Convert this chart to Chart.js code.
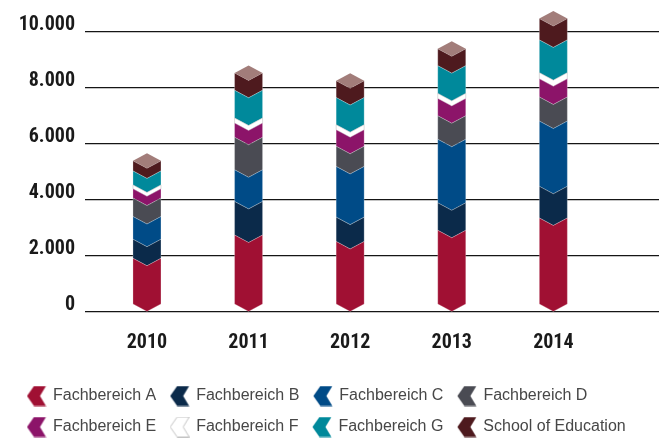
<!DOCTYPE html>
<html>
<head>
<meta charset="utf-8">
<script src="https://cdn.jsdelivr.net/npm/chart.js@4/dist/chart.umd.min.js"></script>
<style>
    html, body { margin: 0; padding: 0; background: #fff; }
    #wrap { width: 661px; height: 439px; }
</style>
</head>
<body>
<div id="wrap"><canvas id="studentChart"></canvas></div>
<script>
const years = [2010, 2011, 2012, 2013, 2014];
const yTicks = [0, 2000, 4000, 6000, 8000, 10000];

const fachbereichA = [1650, 2480, 2250, 2650, 3090];
const fachbereichB = [680, 1200, 870, 980, 1130];
const fachbereichC = [810, 1130, 1810, 2270, 2330];
const fachbereichD = [660, 1160, 720, 840, 860];
const fachbereichE = [330, 510, 590, 620, 650];
const fachbereichF = [140, 180, 180, 180, 220];
const fachbereichG = [500, 990, 970, 990, 1170];
const schoolOfEducation = [360, 620, 600, 600, 760];

const seriesNames = ['Fachbereich A', 'Fachbereich B', 'Fachbereich C', 'Fachbereich D',
    'Fachbereich E', 'Fachbereich F', 'Fachbereich G', 'School of Education'];
const seriesValues = [fachbereichA, fachbereichB, fachbereichC, fachbereichD,
    fachbereichE, fachbereichF, fachbereichG, schoolOfEducation];
const seriesColors = ['#a01033', '#0b2a4a', '#004b87', '#4a4b53',
    '#8c1469', '#ffffff', '#00899b', '#4e1a1e'];
const capColor = '#a27d7a';
const DIP = 7.5;

const condensed = '"Roboto Condensed", "Liberation Sans Narrow", Roboto, sans-serif';

const formatThousands = v => String(v).replace(/\B(?=(\d{3})+(?!\d))/g, '.');

// left pointing chevron for the legend
const makeIcon = (color) => {
    const c = document.createElement('canvas');
    c.width = 20;
    c.height = 21;
    const g = c.getContext('2d');
    g.beginPath();
    g.moveTo(7.5, 0.5);
    g.lineTo(19.5, 0.5);
    g.lineTo(13.5, 10.5);
    g.lineTo(19.5, 20.5);
    g.lineTo(7.5, 20.5);
    g.lineTo(0.5, 10.5);
    g.closePath();
    g.fillStyle = color;
    g.fill();
    if (color === '#ffffff') {
        g.strokeStyle = '#c4c4c4';
        g.lineWidth = 1;
        g.stroke();
    }
    return c;
};
const legendIcons = seriesColors.map(makeIcon);

const chevronBars = {
    id: 'chevronBars',
    beforeDatasetDraw(chart, args) {
        const ctx = chart.ctx;
        const color = chart.data.datasets[args.index].backgroundColor;
        const isTop = args.index === chart.data.datasets.length - 1;
        args.meta.data.forEach(bar => {
            const {x, y, base, width} = bar.getProps(['x', 'y', 'base', 'width'], true);
            const l = x - width / 2;
            const r = x + width / 2;
            ctx.save();
            ctx.beginPath();
            ctx.moveTo(l, y - DIP);
            ctx.lineTo(x, y);
            ctx.lineTo(r, y - DIP);
            ctx.lineTo(r, base - DIP);
            ctx.lineTo(x, base);
            ctx.lineTo(l, base - DIP);
            ctx.closePath();
            ctx.fillStyle = color;
            ctx.fill();
            ctx.strokeStyle = color === '#ffffff' ? 'rgba(180,180,180,0.6)' : 'rgba(255,255,255,0.3)';
            ctx.lineWidth = 0.8;
            ctx.stroke();
            if (isTop) {
                ctx.beginPath();
                ctx.moveTo(l, y - DIP);
                ctx.lineTo(x, y - 2 * DIP);
                ctx.lineTo(r, y - DIP);
                ctx.lineTo(x, y);
                ctx.closePath();
                ctx.fillStyle = capColor;
                ctx.fill();
            }
            ctx.restore();
        });
        return false;
    }
};

const ctx = document.getElementById('studentChart').getContext('2d');

const studentChart = new Chart(ctx, {
    type: 'bar',
    data: {
        labels: years,
        datasets: seriesNames.map((name, i) => ({
            label: name,
            data: seriesValues[i],
            backgroundColor: seriesColors[i],
            borderWidth: 0,
            barThickness: 28
        }))
    },
    options: {
        responsive: true,
        maintainAspectRatio: false,
        animation: false,
        layout: {
            padding: { left: 13, right: 2, top: 32, bottom: -6 }
        },
        scales: {
            x: {
                type: 'linear',
                stacked: true,
                offset: false,
                min: 2009.39,
                max: 2015.04,
                afterBuildTicks: scale => {
                    scale.ticks = years.map(v => ({ value: v }));
                },
                afterFit: scale => {
                    scale.height = 61;
                },
                grid: { display: false, drawTicks: false, offset: false },
                border: { display: false },
                ticks: {
                    autoSkip: false,
                    maxRotation: 0,
                    padding: 19,
                    color: '#1a1a1a',
                    font: { family: condensed, size: 20, weight: 'bold' },
                    callback: v => String(v)
                }
            },
            y: {
                stacked: true,
                min: 0,
                max: 10000,
                afterBuildTicks: scale => {
                    scale.ticks = yTicks.map(v => ({ value: v }));
                },
                afterFit: scale => {
                    scale.width = 72;
                },
                grid: {
                    color: '#151515',
                    lineWidth: 1.2,
                    drawTicks: false
                },
                border: { display: false },
                ticks: {
                    padding: 10,
                    labelOffset: -7.5,
                    color: '#1a1a1a',
                    font: { family: condensed, size: 20, weight: 'bold' },
                    callback: v => formatThousands(v)
                }
            }
        },
        plugins: {
            tooltip: { enabled: false },
            legend: {
                position: 'bottom',
                align: 'start',
                labels: {
                    usePointStyle: true,
                    pointStyleWidth: 17,
                    padding: 15,
                    color: '#474747',
                    font: { family: '"Liberation Sans", Arial, sans-serif', size: 16 },
                    generateLabels: chart => Chart.defaults.plugins.legend.labels.generateLabels(chart)
                        .map((item, i) => ({ ...item, pointStyle: legendIcons[i] }))
                }
            }
        }
    },
    plugins: [chevronBars]
});
</script>
</body>
</html>
